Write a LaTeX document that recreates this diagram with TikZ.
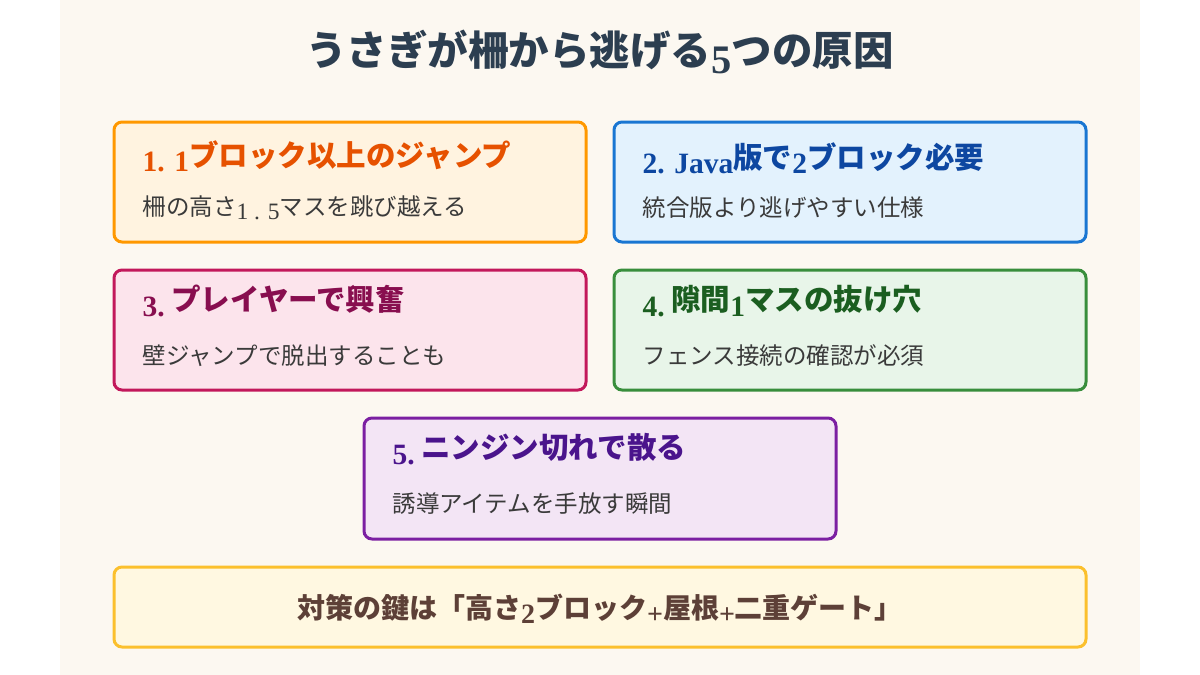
\documentclass[tikz,border=0pt]{standalone}
\usepackage{fontspec}
\setmainfont{Noto Sans CJK JP}
\newfontfamily\serif{Liberation Serif}
\newcommand\dg[1]{\raisebox{-0.18em}{\serif #1}}
\newcommand\dgb[1]{\raisebox{-0.18em}{\serif\bfseries #1}}
\definecolor{bgc}{HTML}{FCF8F1}
\definecolor{ttl}{HTML}{2C3E50}
\definecolor{bodyc}{HTML}{3A3A3A}
\definecolor{c1}{HTML}{E65100}\definecolor{c2}{HTML}{0D47A1}\definecolor{c3}{HTML}{880E4F}\definecolor{c4}{HTML}{1B5E20}\definecolor{c5}{HTML}{4A148C}
\definecolor{d1}{HTML}{FF9800}\definecolor{d2}{HTML}{1976D2}\definecolor{d3}{HTML}{C2185B}\definecolor{d4}{HTML}{388E3C}\definecolor{d5}{HTML}{7B1FA2}\definecolor{d6}{HTML}{FBC02D}
\definecolor{f1}{HTML}{FFF3E0}\definecolor{f2}{HTML}{E3F2FD}\definecolor{f3}{HTML}{FCE4EC}\definecolor{f4}{HTML}{E8F5E9}\definecolor{f5}{HTML}{F3E5F5}\definecolor{f6}{HTML}{FFF8E1}
\definecolor{c6}{HTML}{5D4037}
\tikzset{
 card/.style={draw=#1, line width=3pt, rounded corners=8pt},
 head/.style={anchor=west, font=\fontsize{29.5}{34}\selectfont\bfseries},
 body/.style={anchor=west, text=bodyc, font=\fontsize{23.5}{28}\selectfont},
}
\begin{document}
\begin{tikzpicture}[x=1pt,y=-1pt]
\useasboundingbox (0,0) rectangle (1200,675);
\fill[white] (0,0) rectangle (1200,675);
\fill[bgc] (60,0) rectangle (1140,675);
\node[font=\fontsize{40.5}{46}\selectfont\bfseries, text=ttl] (title) at (600,52) {うさぎが柵から逃げる\dgb{5}つの原因};
\filldraw[card=d1, fill=f1] (114,122) rectangle (586,242);
\node[head, text=c1] (h1) at (139,156) {\dgb{1. 1}ブロック以上のジャンプ};
\node[body] (b1) at (139,208) {柵の高さ\dg{1 . 5}マスを跳び越える};
\filldraw[card=d2, fill=f2] (614,122) rectangle (1086,242);
\node[head, text=c2] (h2) at (639,158) {\dgb{2. Java}版で\dgb{2}ブロック必要};
\node[body] (b2) at (639,208) {統合版より逃げやすい仕様};
\filldraw[card=d3, fill=f3] (114,270) rectangle (586,390);
\node[head, text=c3] (h3) at (139,301) {\dgb{3.} プレイヤーで興奮};
\node[body] (b3) at (139,356) {壁ジャンプで脱出することも};
\filldraw[card=d4, fill=f4] (614,270) rectangle (1086,390);
\node[head, text=c4] (h4) at (639,301) {\dgb{4.} 隙間\dgb{1}マスの抜け穴};
\node[body] (b4) at (639,356) {フェンス接続の確認が必須};
\filldraw[card=d5, fill=f5] (364,418) rectangle (836,539);
\node[head, text=c5] (h5) at (389,449) {\dgb{5.} ニンジン切れで散る};
\node[body] (b5) at (389,504) {誘導アイテムを手放す瞬間};
\filldraw[card=d6, fill=f6] (114,567) rectangle (1086,647);
\node[font=\fontsize{28}{33}\selectfont\bfseries, text=c6] (tip) at (600,609) {対策の鍵は「高さ\dgb{2}ブロック\dgb{+}屋根\dgb{+}二重ゲート」};
\end{tikzpicture}
\end{document}
